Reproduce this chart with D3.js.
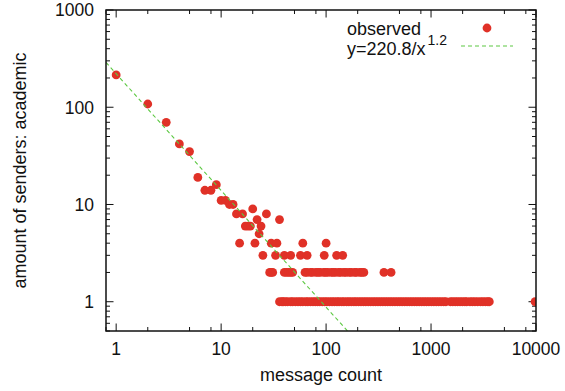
<!DOCTYPE html>
<html lang="en">
<head>
<meta charset="UTF-8">
<title>message count vs senders</title>
<script src="https://cdn.jsdelivr.net/npm/d3@7"></script>
<style>
  body { margin: 0; background: #fff; }
  svg text { font-family: "Liberation Sans", Arial, sans-serif; fill: #111; }
</style>
</head>
<body>
<svg id="chart" width="565" height="391"></svg>
<script>
// message counts with more than one sender (pairs: count, senders)
const headCounts  = [1, 2, 3, 4, 5, 6, 7, 8, 9, 10, 11, 12, 13, 14, 16, 20, 27, 22, 36, 17, 18, 19, 24, 23];
const headSenders = [215, 108, 70, 42, 35, 19, 14, 14, 16, 11, 11, 10, 10, 8, 8, 9, 8, 7, 7, 6, 6, 6, 6, 5];

// message counts where the sender count is 4, 3, 2, 1
const countsWith4 = [15, 21, 30, 34, 60, 100];
const countsWith3 = [25, 33, 40, 46, 57, 66, 96, 126, 144];
const countsWith2 = [29, 30, 31, 40, 42, 44, 46, 48, 63, 66, 71, 74, 80, 84, 88, 95, 99, 104, 112, 117,
  123, 132, 138, 148, 155, 166, 174, 187, 195, 210, 219, 229, 356, 416];
const countsWith1 = [36, 38, 39, 41, 43, 46, 48, 51, 54, 57, 60, 64, 67, 71, 75, 79, 83, 87, 92, 97, 102,
  108, 114, 120, 127, 133, 141, 148, 157, 165, 174, 184, 193, 204, 215, 227, 239, 252, 266, 281, 296,
  312, 329, 347, 366, 386, 407, 429, 453, 478, 504, 531, 561, 591, 624, 658, 694, 732, 772, 814, 859,
  906, 955, 1008, 1063, 1121, 1182, 1247, 1320, 1385, 1530, 1610, 1700, 1790, 1890, 1990, 2100, 2190,
  2350, 2480, 2620, 2780, 2960, 3120, 3300, 3480, 3590, 9800];

const fitA = 220.8, fitB = 1.2;
const xTickValues = [1, 10, 100, 1000, 10000];
const yTickValues = [1, 10, 100, 1000];

const points = [];
headCounts.forEach((c, i) => points.push([c, headSenders[i]]));
countsWith4.forEach(c => points.push([c, 4]));
countsWith3.forEach(c => points.push([c, 3]));
countsWith2.forEach(c => points.push([c, 2]));
countsWith1.forEach(c => points.push([c, 1]));

const pl = 106, pr = 536, pt = 10, pb = 331;
const svg = d3.select('#chart');

const x = d3.scaleLog().domain([0.8, 10000]).range([pl, pr]);
const y = d3.scaleLog().domain([0.5, 1000]).range([pb, pt]);

// minor ticks: x at 2,5,8 per decade, y at 2..9
const xMinor = [], yMinor = [];
[0.1, 1, 10, 100, 1000].forEach(d => [2, 5, 8].forEach(m => {
  const v = d * m;
  if (v >= 0.8 && v <= 10000) xMinor.push(v);
}));
[0.1, 1, 10, 100].forEach(d => [2, 3, 4, 5, 6, 7, 8, 9].forEach(m => {
  const v = d * m;
  if (v >= 0.5 && v <= 1000) yMinor.push(v);
}));

const ticks = svg.append('g').attr('stroke', '#111').attr('stroke-width', 1);
function xTick(v, len) {
  ticks.append('line').attr('x1', x(v)).attr('x2', x(v)).attr('y1', pb).attr('y2', pb - len);
  ticks.append('line').attr('x1', x(v)).attr('x2', x(v)).attr('y1', pt).attr('y2', pt + len);
}
function yTick(v, len) {
  ticks.append('line').attr('y1', y(v)).attr('y2', y(v)).attr('x1', pl).attr('x2', pl + len);
  ticks.append('line').attr('y1', y(v)).attr('y2', y(v)).attr('x1', pr).attr('x2', pr - len);
}
xMinor.forEach(v => xTick(v, 4));
xTickValues.forEach(v => xTick(v, 7.5));
yMinor.forEach(v => yTick(v, 4));
yTickValues.forEach(v => yTick(v, 7.5));

svg.selectAll('.xl').data(xTickValues).enter().append('text')
  .attr('x', d => x(d)).attr('y', 355).attr('text-anchor', 'middle')
  .attr('font-size', 17.5).text(d => d);
svg.selectAll('.yl').data(yTickValues).enter().append('text')
  .attr('x', 94).attr('y', d => y(d)).attr('dy', '0.36em').attr('text-anchor', 'end')
  .attr('font-size', 17.5).text(d => d);

svg.append('text').attr('x', (pl + pr) / 2).attr('y', 381).attr('text-anchor', 'middle')
  .attr('font-size', 18).text('message count');
svg.append('text').attr('transform', `translate(26,${(pt + pb) / 2}) rotate(-90)`)
  .attr('text-anchor', 'middle').attr('font-size', 18).text('amount of senders: academic');

// clip
svg.append('clipPath').attr('id', 'plot').append('rect')
  .attr('x', pl).attr('y', pt).attr('width', pr - pl).attr('height', pb - pt);

const red = '#e03127', green = '#5cc842';
const ymin = y.domain()[0];
const fitEnd = Math.pow(fitA / ymin, 1 / fitB);
const fitLine = [x.domain()[0], fitEnd].map(v => [v, fitA / Math.pow(v, fitB)]);

svg.append('g').attr('clip-path', 'url(#plot)').selectAll('circle').data(points).enter().append('circle')
  .attr('cx', d => x(d[0])).attr('cy', d => y(d[1])).attr('r', 4.4).attr('fill', red);

svg.append('path').attr('clip-path', 'url(#plot)')
  .attr('d', d3.line().x(d => x(d[0])).y(d => y(d[1]))(fitLine))
  .attr('fill', 'none').attr('stroke', green).attr('stroke-width', 1.1).attr('stroke-dasharray', '4,3');

// border
svg.append('rect').attr('x', pl).attr('y', pt).attr('width', pr - pl).attr('height', pb - pt)
  .attr('fill', 'none').attr('stroke', '#111').attr('stroke-width', 1.5);

// legend
svg.append('text').attr('x', 347).attr('y', 34.5).attr('font-size', 18).text('observed');
svg.append('circle').attr('cx', 487).attr('cy', 28).attr('r', 4.4).attr('fill', red);
const lt = svg.append('text').attr('x', 347).attr('y', 54.5).attr('font-size', 18);
lt.append('tspan').text(`y=${fitA}/x`);
lt.append('tspan').attr('dx', 2).attr('dy', -10).attr('font-size', 14).text(fitB);
svg.append('line').attr('x1', 461).attr('x2', 513).attr('y1', 46).attr('y2', 46)
  .attr('stroke', green).attr('stroke-width', 1.1).attr('stroke-dasharray', '4,3');
</script>
</body>
</html>
